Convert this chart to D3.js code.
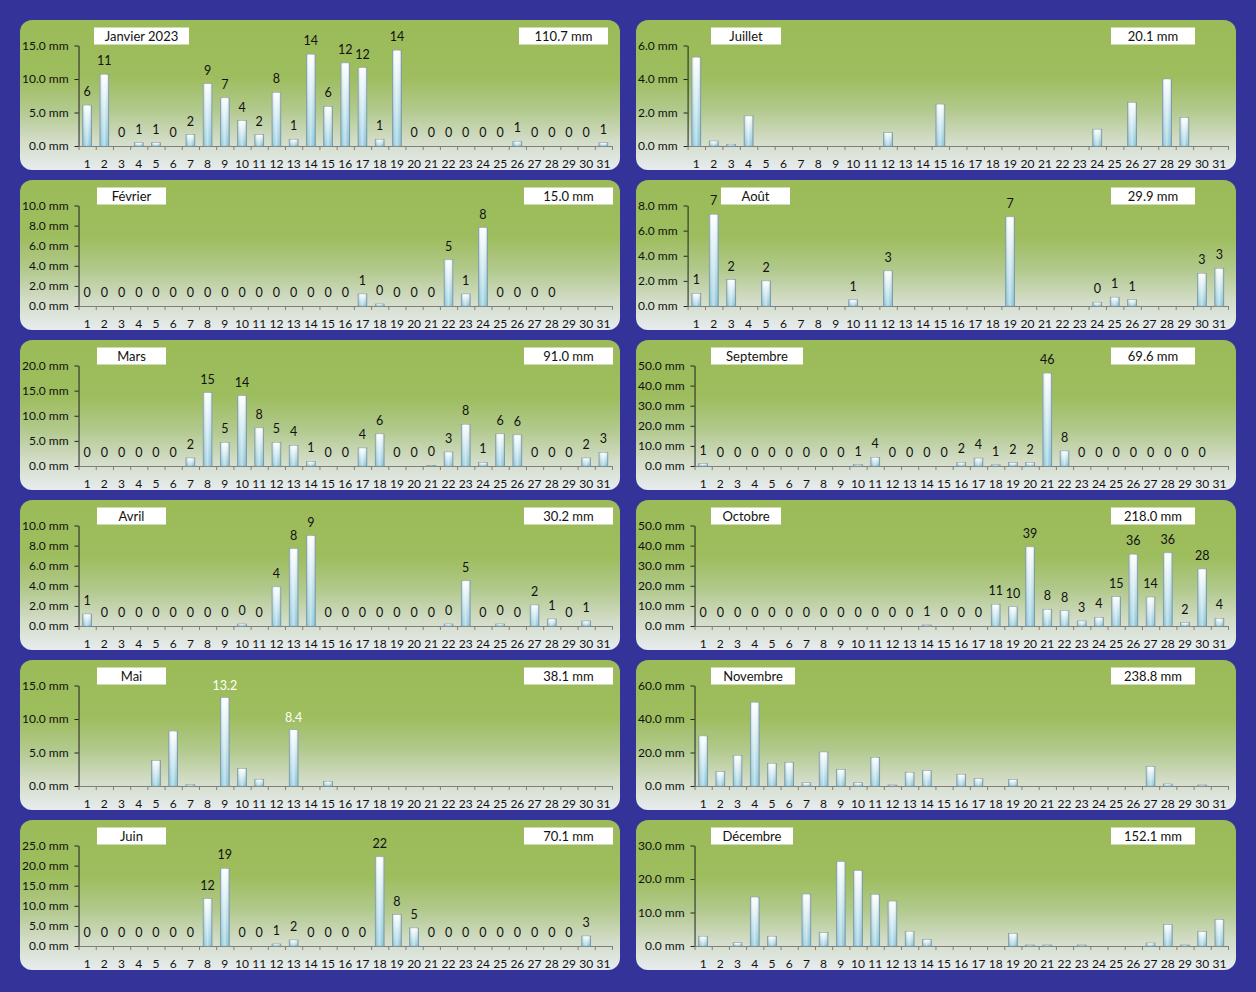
<!DOCTYPE html>
<html><head><meta charset="utf-8">
<script src="https://cdn.jsdelivr.net/npm/d3@7"></script>
<style>
html,body{margin:0;padding:0;background:#333399;}
svg{display:block;}
text{font-family:Lato,"Liberation Sans",sans-serif;}
</style></head><body>
<svg id="chart" width="1256" height="992"></svg>
<script>
// ---------- DATA ----------
const days = d3.range(1, 32);
const monthNames = ["Janvier 2023","Février","Mars","Avril","Mai","Juin","Juillet","Août","Septembre","Octobre","Novembre","Décembre"];
const totals = ["110.7 mm","15.0 mm","91.0 mm","30.2 mm","38.1 mm","70.1 mm","20.1 mm","29.9 mm","69.6 mm","218.0 mm","238.8 mm","152.1 mm"];
const yMaxes = [15,10,20,10,15,25,6,8,50,50,60,30];
const ySteps = [5,2,5,2,5,5,2,2,10,10,20,10];
const labelModes = ["all","all","all","all","custom","all","none","all","all","all","none","none"];

const janvier = [6.1,10.7,0,0.5,0.5,0,1.7,9.3,7.2,3.8,1.7,8.0,1.0,13.7,5.9,12.4,11.7,1.0,14.3,0,0,0,0,0,0,0.7,0,0,0,0,0.5];
const fevrier = [0,0,0,0,0,0,0,0,0,0,0,0,0,0,0,0,1.2,0.2,0,0,0,4.6,1.2,7.8,0,0,0,0,null,null,null];
const mars = [0,0,0,0,0,0,1.6,14.6,4.7,14.0,7.6,4.7,4.1,0.9,0,0,3.6,6.4,0,0,0.1,2.8,8.3,0.7,6.4,6.2,0,0,0,1.6,2.7];
const avril = [1.2,0,0,0,0,0,0,0,0,0.2,0,3.9,7.7,9.0,0,0,0,0,0,0,0,0.2,4.5,0,0.2,0,2.1,0.7,0,0.5,null];
const mai = [0,0,0,0,3.8,8.2,0.2,0,13.2,2.6,1.0,0,8.4,0,0.7,0,0,0,0,0,0,0,0,0,0,0,0,0,0,0,0];
const juin = [0,0,0,0,0,0,0,11.8,19.3,0,0,0.5,1.5,0,0,0,0,22.2,7.8,4.5,0,0,0,0,0,0,0,0,0,2.5,null];
const juillet = [5.3,0.3,0.1,1.8,0,0,0,0,0,0,0,0.8,0,0,2.5,0,0,0,0,0,0,0,0,1.0,0,2.6,0,4.0,1.7,0,0];
const aout = [1.0,7.3,2.1,null,2.0,null,null,null,null,0.5,null,2.8,null,null,null,null,null,null,7.1,null,null,null,null,0.3,0.7,0.5,null,null,null,2.6,3.0];
const septembre = [1.2,0,0,0,0,0,0,0,0,0.7,4.3,0,0,0,0,1.8,3.9,0.6,1.7,1.7,46.2,7.5,0,0,0,0,0,0,0,0,null];
const octobre = [0,0,0,0,0,0,0,0,0,0,0,0,0,0.5,0,0,0,10.8,9.6,39.4,8.3,7.6,2.5,4.3,14.6,35.7,14.4,36.4,1.7,28.4,3.8];
const novembre = [29.9,8.6,18.3,50.0,13.5,14.1,2.0,20.3,9.8,2.0,17.1,0.6,8.2,9.2,0,7.0,4.4,0,3.8,0,0,0,0,0,0,0,11.6,1.2,0,0.6,null];
const decembre = [2.9,0,1.0,14.6,2.9,0,15.5,4.0,25.2,22.5,15.4,13.4,4.4,1.9,0,0,0,0,3.7,0.3,0.3,0,0.3,0,0,0,0.9,6.4,0.3,4.3,7.9];
const maiLabels = [null,null,null,null,null,null,null,null,"13.2",null,null,null,"8.4",null,null,null,null,null,null,null,null,null,null,null,null,null,null,null,null,null,null];

const series = [janvier,fevrier,mars,avril,mai,juin,juillet,aout,septembre,octobre,novembre,decembre];

// ---------- LAYOUT ----------
const nameBoxes = [[74,95],[77,69],[77,69],[77,69],[77,69],[77,69],[75,70],[85,69],[75,92],[75,70],[75,84],[75,82]];
const totalBoxes = [[499,89],[504,89],[504,89],[504,89],[504,89],[504,89],[475,84],[475,84],[475,84],[475,84],[475,84],[475,84]];

const svg = d3.select("#chart");
svg.append("rect").attr("width",1256).attr("height",992).attr("fill","#333399");
const defs = svg.append("defs");
function grad(id, vertical, stops){
  const gr = defs.append("linearGradient").attr("id",id)
    .attr("x1",0).attr("y1",0).attr("x2",vertical?0:1).attr("y2",vertical?1:0);
  stops.forEach(s => gr.append("stop").attr("offset",s[0]).attr("stop-color",s[1]).attr("stop-opacity",s[2]==null?1:s[2]));
}
grad("panelGrad", true, [[0,"#9bbb59"],[0.38,"#9ebd5e"],[0.6,"#b2c98d"],[0.8,"#d2dcc6"],[1,"#e7ebef"]]);
grad("barGrad", true, [[0,"#ffffff"],[0.12,"#f1f8fa"],[1,"#8bc8dc"]]);
grad("barShade", false, [[0,"#4d7585",0.5],[0.25,"#ffffff",0.2],[0.5,"#ffffff",0.45],[0.75,"#ffffff",0.05],[1,"#3f6676",0.55]]);

series.forEach((vals, i) => {
  const col = i < 6 ? 0 : 1, row = i % 6;
  const px = col ? 636 : 20, py = 20 + row * 160;
  const g = svg.append("g").attr("transform", `translate(${px},${py})`);
  g.append("rect").attr("width",600).attr("height",150).attr("rx",12).attr("fill","url(#panelGrad)");

  const yMax = yMaxes[i], step = ySteps[i];
  const top = 25.5, bottom = 126;
  const y = d3.scaleLinear().domain([0, yMax]).range([bottom, top]);
  const fmtY = d => d.toFixed(1) + " mm";
  const tmp = g.append("text").attr("font-size",12).text(fmtY(yMax));
  const w = tmp.node().getComputedTextLength(); tmp.remove();
  const left = 2 + w + 10, right = 592;
  const x = d3.scaleBand().domain(days).range([left, right]).paddingInner(0.48).paddingOuter(0.24);
  const xl = d3.scaleLinear().domain([0, 31]).range([left, right]);

  // x boundary ticks
  const xt = g.append("g").attr("transform",`translate(0,${bottom})`)
    .call(d3.axisBottom(xl).tickValues(d3.range(32)).tickFormat("").tickSize(4).tickSizeOuter(0));
  xt.selectAll("path,line").attr("stroke","#808080");
  // x labels
  const xa = g.append("g").attr("transform",`translate(0,${bottom})`)
    .call(d3.axisBottom(x).tickSize(0).tickPadding(13));
  xa.select(".domain").remove();
  xa.selectAll("text").attr("font-size",12).attr("fill","#111").attr("font-family","Lato, 'Liberation Sans', sans-serif");

  // bars
  const data = days.map((d, k) => ({d, v: vals[k], k})).filter(o => o.v != null && o.v > 0);
  const bars = g.append("g");
  bars.selectAll("rect.b").data(data).join("rect").attr("class","b")
    .attr("x", o => x(o.d)).attr("width", x.bandwidth())
    .attr("y", o => y(o.v)).attr("height", o => bottom - y(o.v))
    .attr("fill","url(#barGrad)").attr("stroke","#8aa3ab").attr("stroke-width",0.7);
  bars.selectAll("rect.s").data(data).join("rect").attr("class","s")
    .attr("x", o => x(o.d)).attr("width", x.bandwidth())
    .attr("y", o => y(o.v)).attr("height", o => bottom - y(o.v))
    .attr("fill","url(#barShade)");

  // y axis
  const ya = g.append("g").attr("transform",`translate(${left},0)`)
    .call(d3.axisLeft(y).tickValues(d3.range(0, yMax + step / 2, step)).tickFormat(fmtY).tickSize(4).tickSizeOuter(0).tickPadding(6));
  ya.selectAll("path,line").attr("stroke","#222");
  ya.selectAll("text").attr("font-size",12).attr("fill","#111").attr("font-family","Lato, 'Liberation Sans', sans-serif");

  // data labels
  const mode = labelModes[i];
  if (mode === "all") {
    const ld = days.map((d, k) => ({d, v: vals[k]})).filter(o => o.v != null);
    g.append("g").selectAll("text").data(ld).join("text")
      .attr("x", o => x(o.d) + x.bandwidth() / 2).attr("y", o => y(o.v) - 9)
      .attr("text-anchor","middle").attr("font-size",12.5).attr("fill","#111")
      .text(o => Math.round(o.v));
  } else if (mode === "custom") {
    const ld = days.map((d, k) => ({d, v: vals[k], t: maiLabels[k]})).filter(o => o.t != null);
    g.append("g").selectAll("text").data(ld).join("text")
      .attr("x", o => x(o.d) + x.bandwidth() / 2).attr("y", o => y(o.v) - 8)
      .attr("text-anchor","middle").attr("font-size",12.5).attr("fill","#ffffff")
      .text(o => o.t);
  }

  // title & total boxes
  const nb = nameBoxes[i], tb = totalBoxes[i];
  g.append("rect").attr("x",nb[0]).attr("y",7.5).attr("width",nb[1]).attr("height",17).attr("fill","#fff");
  g.append("text").attr("x",nb[0]+nb[1]/2).attr("y",20.5).attr("text-anchor","middle")
    .attr("font-size",13).attr("fill","#111").text(monthNames[i]);
  g.append("rect").attr("x",tb[0]).attr("y",7.5).attr("width",tb[1]).attr("height",17).attr("fill","#fff");
  g.append("text").attr("x",tb[0]+tb[1]/2).attr("y",20.5).attr("text-anchor","middle")
    .attr("font-size",13).attr("fill","#111").text(totals[i]);
});
</script>
</body></html>
